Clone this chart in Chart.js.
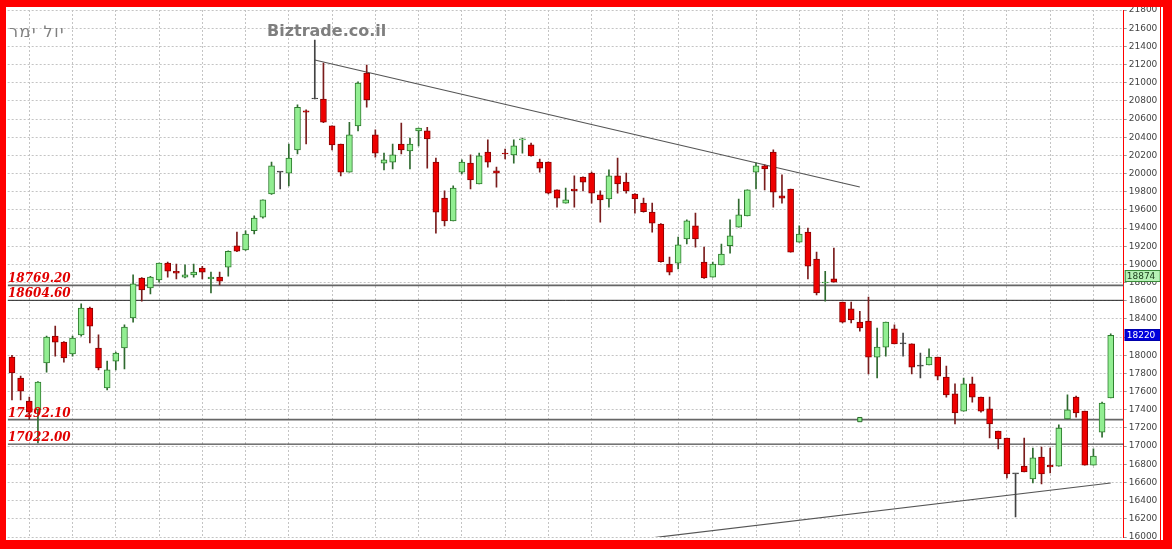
<!DOCTYPE html>
<html>
<head>
<meta charset="utf-8">
<script src="https://cdn.jsdelivr.net/npm/chart.js@4.4.1/dist/chart.umd.min.js"></script>
<style>
  html, body { margin: 0; padding: 0; background: #f00; overflow: hidden; }
  canvas { display: block; }
</style>
</head>
<body>
<canvas id="myChart" width="1172" height="549"></canvas>
<script>
// daily candles
const openP  = [17980,17750,17495,17400,17915,18210,18145,18015,18225,18520,18080,17640,17935,18080,18410,18850,18740,18830,19015,18925,
                18860,18885,18960,18840,18860,18970,19205,19160,19370,19520,19775,20015,20005,20260,20690,20820,20820,20525,20325,20015,
                20525,21105,20425,20115,20125,20325,20250,20470,20470,20125,19730,19480,20015,20115,19885,20235,20030,20225,20205,20370,
                20315,20125,20125,19820,19675,19830,19960,20005,19765,19720,19975,19905,19775,19675,19575,19445,19005,19015,19280,19425,
                19025,18860,18995,19205,19410,19535,20015,20085,20235,19755,19830,19245,19355,19060,18795,18840,18585,18510,18365,18375,
                17980,18090,18290,18125,18125,17880,17895,17980,17760,17575,17385,17685,17540,17410,17165,17090,16695,16780,16640,16880,
                16790,16780,17300,17540,17385,16790,17155,17530];
const highP  = [18000,17770,17540,17710,18210,18320,18150,18210,18565,18530,18225,17935,18035,18335,18885,18855,18870,19015,19025,19005,
                18995,19005,18980,18915,18915,19150,19355,19370,19535,19710,20125,20015,20325,20755,20700,21470,21215,20525,20325,20565,
                21010,21195,20480,20225,20325,20555,20390,20500,20510,20170,19810,19865,20150,20205,20225,20370,20070,20270,20370,20390,
                20335,20160,20130,19820,19840,19975,19965,20015,19810,20040,20170,20005,19780,19730,19675,19450,19080,19300,19490,19565,
                19190,19025,19225,19490,19720,19820,20115,20095,20260,19985,19830,19425,19400,19135,18925,19180,18585,18585,18485,18640,
                18300,18365,18335,18245,18125,18025,18070,17980,17880,17685,17750,17760,17540,17540,17165,17090,16695,17090,16980,16990,
                16980,17235,17565,17550,17385,16970,17485,18235];
const lowP   = [17510,17510,17290,17035,17815,17990,17925,17990,18210,18135,17840,17620,17840,17850,18365,18595,18675,18805,18860,18840,
                18850,18860,18840,18685,18775,18870,19140,19155,19335,19510,19770,19830,19865,20215,20325,20820,20560,20260,19975,20015,
                20470,20730,20180,20040,20050,20215,20050,20305,20060,19345,19425,19480,19995,19830,19885,20070,19850,20160,20115,20225,
                20190,20015,19775,19630,19675,19630,19810,19675,19465,19630,19785,19785,19565,19575,19355,19025,18885,18950,19225,19190,
                18845,18860,18995,19125,19410,19535,19830,19820,19630,19675,19135,19245,18840,18665,18595,18805,18355,18355,18265,17795,
                17750,17990,18125,17990,17795,17750,17895,17730,17540,17245,17385,17485,17375,17090,16970,16650,16220,16715,16595,16585,
                16705,16780,17300,17320,16790,16790,17100,17530];
const closeP = [17805,17605,17375,17705,18200,18145,17970,18190,18520,18320,17860,17840,18025,18310,18785,18720,18860,19015,18925,18905,
                18885,18915,18915,18860,18815,19145,19145,19335,19510,19710,20085,20015,20170,20730,20675,20820,20565,20315,20015,20425,
                20995,20810,20225,20150,20205,20260,20325,20500,20380,19575,19480,19840,20125,19930,20195,20125,20005,20215,20305,20380,
                20195,20060,19785,19730,19710,19810,19905,19785,19710,19975,19885,19810,19720,19580,19455,19030,18915,19215,19480,19280,
                18850,19005,19115,19315,19545,19820,20085,20050,19795,19730,19135,19335,18980,18685,18805,18805,18365,18390,18300,17980,
                18090,18365,18125,18125,17870,17880,17980,17770,17565,17365,17685,17540,17385,17245,17080,16695,16695,16715,16870,16695,
                16770,17200,17400,17365,16790,16890,17475,18220];

// candles where a new week starts (vertical grid)
const weekStarts = [2,7,12,17,22,27,32,37,42,47,52,57,62,67,72,77,81,86,91,96,99,102,107,110,115,120,125];

// horizontal levels and trend lines
const levels      = [18769.20, 18604.60, 17292.10, 17022.00];
const levelColors = ['#666', '#222', '#666', '#222'];
const upperTrend  = [[35, 21250], [98, 19852]];
const lowerTrend  = [[72, 15968], [127, 16594]];
const levelMark   = [98, 17292.10];

const lastPrice = 18220;
const otherPrice = 18874;

const yMin = 16000, yMax = 21800, yStep = 200;

const n = openP.length;
const idx = openP.map((_, i) => i);
const dir = idx.map(i => closeP[i] > openP[i] ? 1 : (closeP[i] < openP[i] ? -1 : 0));

const bodyFill   = dir.map(d => d > 0 ? '#92ee92' : d < 0 ? '#ee0000' : '#444');
const bodyBorder = dir.map(d => d > 0 ? '#2c7a2c' : d < 0 ? '#8a0000' : '#444');
const wickColor  = dir.map(d => d > 0 ? '#2f6a2f' : d < 0 ? '#7a1c1c' : '#444');

const framePlugin = {
  id: 'frame',
  beforeDraw(chart) {
    const c = chart.ctx;
    c.save();
    c.fillStyle = '#fff';
    c.fillRect(0, 0, chart.width, chart.height);
    c.restore();
  },
  afterDraw(chart) {
    const c = chart.ctx;
    const y = chart.scales.y;
    const a = chart.chartArea;
    c.save();

    // level labels
    c.font = 'bold italic 12px "DejaVu Serif"';
    c.fillStyle = '#e00000';
    c.textAlign = 'left';
    c.textBaseline = 'alphabetic';
    levels.forEach(v => {
      c.fillText(v.toFixed(2), 8, y.getPixelForValue(v) - 3);
    });

    // titles
    c.fillStyle = '#7f7f7f';
    c.font = 'bold 16px "DejaVu Sans"';
    c.fillText('Biztrade.co.il', 267, 36);
    c.fillStyle = '#808080';
    c.font = '16px "DejaVu Sans"';
    // the original draws the name glyph by glyph, left to right
    let tx = 9;
    for (const ch of 'רמי לוי') {
      c.fillText(ch, tx, 37);
      tx += c.measureText(ch).width + 1.5;
    }

    // price boxes on the axis
    const box = (v, bg, border, fg) => {
      const py = Math.round(y.getPixelForValue(v));
      c.fillStyle = bg;
      c.fillRect(a.right + 1, py - 6, 36, 12);
      c.strokeStyle = border;
      c.lineWidth = 1;
      c.strokeRect(a.right + 1.5, py - 5.5, 35, 11);
      c.fillStyle = fg;
      c.font = '9px "DejaVu Sans"';
      c.textBaseline = 'middle';
      c.fillText(String(v), a.right + 3, py + 0.5);
    };
    box(otherPrice, '#b6f2b6', '#3a8a3a', '#1a3a1a');
    box(lastPrice, '#0000dd', '#0000aa', '#fff');

    // red frame
    c.fillStyle = '#f00';
    c.fillRect(0, 0, chart.width, 7);
    c.fillRect(0, 540, chart.width, 9);
    c.fillRect(0, 0, 6, chart.height);
    c.fillRect(1160, 0, 1, chart.height);
    c.fillRect(1163, 0, 9, chart.height);
    c.restore();
  }
};

const ctx = document.getElementById('myChart');
let myChart = new Chart(ctx, {
  type: 'bar',
  data: {
    datasets: [
      {
        type: 'line',
        data: [{x: levelMark[0], y: levelMark[1]}],
        showLine: false,
        pointStyle: 'rect',
        pointRadius: 3,
        pointBackgroundColor: '#92ee92',
        pointBorderColor: '#2c6a2c',
        pointBorderWidth: 1,
        order: 0
      },
      {
        data: idx.map(i => ({x: i, y: [openP[i], closeP[i]]})),
        backgroundColor: bodyFill,
        borderColor: bodyBorder,
        borderWidth: 1,
        borderSkipped: false,
        barThickness: 6,
        minBarLength: 1,
        grouped: false,
        order: 1
      },
      {
        data: idx.map(i => ({x: i, y: [lowP[i], highP[i]]})),
        backgroundColor: wickColor,
        borderWidth: 0,
        barThickness: 1,
        grouped: false,
        order: 2
      },
      {
        type: 'line',
        data: upperTrend.map(p => ({x: p[0], y: p[1]})),
        borderColor: '#555',
        borderWidth: 1.2,
        pointRadius: 0,
        order: 3
      },
      {
        type: 'line',
        data: lowerTrend.map(p => ({x: p[0], y: p[1]})),
        borderColor: '#555',
        borderWidth: 1.2,
        pointRadius: 0,
        order: 3
      },
      ...levels.map((v, k) => ({
        type: 'line',
        data: [{x: -0.5, y: v}, {x: n + 0.5, y: v}],
        borderColor: levelColors[k],
        borderWidth: k % 2 === 0 ? 1.6 : 1,
        pointRadius: 0,
        order: 3
      }))
    ]
  },
  options: {
    responsive: false,
    animation: false,
    devicePixelRatio: 1,
    layout: { padding: { left: 7.66, top: 10, right: 0, bottom: 12 } },
    plugins: { legend: { display: false }, tooltip: { enabled: false } },
    scales: {
      x: {
        type: 'linear',
        min: -0.5,
        max: n + 0.5,
        offset: false,
        afterBuildTicks: s => { s.ticks = weekStarts.map(v => ({value: v})); },
        afterFit: s => { s.height = 0; },
        ticks: { display: false },
        grid: { color: '#c4c4c4', drawTicks: false, offset: false },
        border: { display: false, dash: [2, 2] }
      },
      y: {
        position: 'right',
        min: yMin,
        max: yMax,
        afterFit: s => { s.width = 48.3; },
        ticks: {
          stepSize: yStep,
          color: '#444',
          padding: 2,
          font: { family: 'DejaVu Sans', size: 9 },
          callback: v => String(v)
        },
        grid: { color: '#c4c4c4', tickLength: 3, tickColor: '#999', tickBorderDash: [] },
        border: { display: true, color: '#f00', width: 1, dash: [2, 2] }
      }
    }
  },
  plugins: [framePlugin]
});
</script>
</body>
</html>
